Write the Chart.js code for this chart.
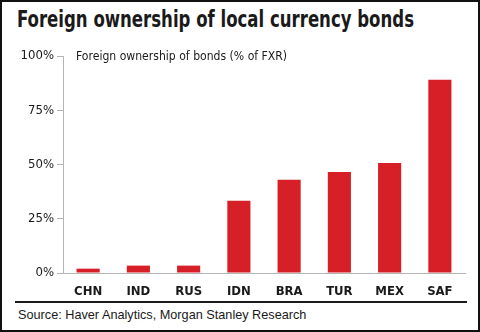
<!DOCTYPE html>
<html>
<head>
<meta charset="utf-8">
<script src="https://cdn.jsdelivr.net/npm/chart.js@4"></script>
<style>
  html, body { margin: 0; padding: 0; background: #fff; }
  #frame { position: relative; width: 480px; height: 332px; box-sizing: border-box; border: 2px solid #111; overflow: hidden; }
  #title { position: absolute; left: 15px; top: 4px; font: bold 23px "DejaVu Sans Condensed", sans-serif; color: #1a1a1a; white-space: nowrap; transform: scaleX(0.8); transform-origin: left top; }
  #sub { position: absolute; left: 74px; top: 46px; font: 13px "DejaVu Sans Condensed", sans-serif; color: #1a1a1a; white-space: nowrap; transform: scaleX(0.93); transform-origin: left top; }
  #wrap { position: absolute; left: 0; top: 39px; width: 476px; height: 255px; }
  #rule { position: absolute; left: 13px; top: 299px; width: 452px; height: 2px; background: #1a1a1a; }
  #source { position: absolute; left: 16px; top: 306px; font: 12.7px "Liberation Sans", Arial, sans-serif; color: #1a1a1a; white-space: nowrap; }
</style>
</head>
<body>
<div id="frame">
  <div id="title">Foreign ownership of local currency bonds</div>
  <div id="wrap"><canvas id="chart"></canvas></div>
  <div id="sub">Foreign ownership of bonds (% of FXR)</div>
  <div id="rule"></div>
  <div id="source">Source: Haver Analytics, Morgan Stanley Research</div>
</div>
<script>
const countries = ['CHN', 'IND', 'RUS', 'IDN', 'BRA', 'TUR', 'MEX', 'SAF'];
const ownership = [2, 3.4, 3.4, 33.3, 43, 46.6, 50.7, 89];
const yTicks = [0, 25, 50, 75, 100];

const font = '"DejaVu Sans Condensed", sans-serif';

new Chart(document.getElementById('chart').getContext('2d'), {
  type: 'bar',
  data: {
    labels: countries,
    datasets: [{
      data: ownership,
      backgroundColor: '#d71f27',
      categoryPercentage: 0.92,
      barPercentage: 0.5
    }]
  },
  options: {
    responsive: true,
    maintainAspectRatio: false,
    animation: false,
    layout: { padding: { top: 15, right: 13, left: 0, bottom: 0 } },
    plugins: { legend: { display: false }, tooltip: { enabled: false } },
    scales: {
      x: {
        grid: { display: false },
        border: { display: true, color: '#b5b5b5', width: 1 },
        ticks: { color: '#1a1a1a', font: { family: font, size: 13, weight: 'bold' }, padding: 3 },
        afterFit: function(s) { s.height = 23; }
      },
      y: {
        min: 0,
        max: 100,
        afterBuildTicks: function(s) { s.ticks = yTicks.map(v => ({ value: v })); },
        grid: { drawOnChartArea: false, drawTicks: true, tickLength: 6, color: '#b5b5b5' },
        border: { display: true, color: '#b5b5b5', width: 1 },
        ticks: {
          color: '#1a1a1a',
          font: { family: font, size: 13 },
          padding: 3,
          callback: v => v + '%'
        },
        afterFit: function(s) { s.width = 61; }
      }
    }
  }
});
</script>
</body>
</html>
